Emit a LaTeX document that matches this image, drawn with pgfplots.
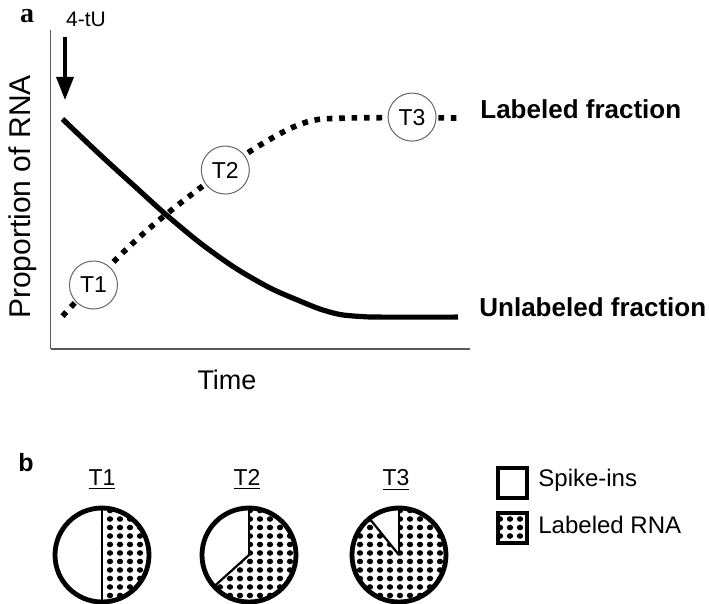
\documentclass[border=0pt]{standalone}
\usepackage{pgfplots}
\pgfplotsset{compat=1.18}
\usepackage{fontspec}
\setmainfont{Liberation Sans}
\newfontfamily\serifbf{Liberation Serif}
\usetikzlibrary{arrows.meta,patterns.meta}

\tikzdeclarepattern{
  name=bigdots,
  type=uncolored,
  bounding box={(-2.5pt,-2.125pt) and (2.5pt,2.125pt)},
  tile size={(5pt,4.25pt)},
  code={\fill (0,0) ellipse [x radius=1.6pt, y radius=1.4pt];}
}

\begin{document}
\begin{tikzpicture}
\useasboundingbox (0,0) rectangle (354.5pt,-302pt);

% ---------------- panel a ----------------
\begin{axis}[
  at={(25.25pt,-174.5pt)}, anchor=south west,
  scale only axis, width=209.75pt, height=159.5pt,
  xmin=0, xmax=10, ymin=0, ymax=1,
  axis x line*=bottom, axis y line*=left,
  ticks=none,
  axis line style={black!65, line width=0.75pt},
  clip=false]
% unlabeled fraction
\addplot[black, line width=2.6pt, smooth, tension=0.5] coordinates {
  (0.286,0.721) (1.190,0.608) (2.024,0.508) (2.738,0.423) (3.571,0.332)
  (4.405,0.254) (5.238,0.191) (5.952,0.150) (6.429,0.125) (6.905,0.108)
  (7.381,0.102) (7.857,0.100) (9.714,0.100)};
% labeled fraction
\addplot[black, line width=2.8pt, dash pattern=on 2.8pt off 3.4pt, smooth, tension=0.55] coordinates {
  (0.286,0.103) (1.5,0.273) (2.452,0.389) (3.5,0.498) (4.810,0.624)
  (6.024,0.708) (7.071,0.724) (9.690,0.724)};
\node[circle, draw=black!60, line width=0.5pt, fill=white, minimum size=24pt, inner sep=0pt,
      font=\fontsize{11.5}{12}\selectfont] at (axis cs:1.024,0.2006) {T1};
\node[circle, draw=black!60, line width=0.5pt, fill=white, minimum size=24pt, inner sep=0pt,
      font=\fontsize{11.5}{12}\selectfont] at (axis cs:4.167,0.561) {T2};
\node[circle, draw=black!60, line width=0.5pt, fill=white, minimum size=24pt, inner sep=0pt,
      font=\fontsize{11.5}{12}\selectfont] at (axis cs:8.619,0.727) {T3};
\end{axis}

% annotations panel a
\node[font=\serifbf\bfseries\fontsize{14}{16}\selectfont, anchor=base] at (13.5pt,-11.5pt) {a};
\node[font=\fontsize{10.5}{12}\selectfont, anchor=base] at (43pt,-13.5pt) {4-tU};
\draw[line width=1.8pt, -{Triangle[length=11.5pt,width=8.5pt]}] (32.5pt,-18.5pt) -- (32.5pt,-50pt);
\node[font=\fontsize{13.5}{16}\selectfont, anchor=base] at (113.5pt,-195pt) {Time};
\node[font=\fontsize{15}{18}\selectfont, rotate=90] at (11.5pt,-98.5pt) {Proportion of RNA};
\node[font=\bfseries\fontsize{13}{15}\selectfont, anchor=base west, inner sep=0pt] at (240pt,-59.5pt) {Labeled fraction};
\node[font=\bfseries\fontsize{13}{15}\selectfont, anchor=base west, inner sep=0pt] at (239.5pt,-158.5pt) {Unlabeled fraction};

% ---------------- panel b ----------------
\begin{axis}[
  at={(0pt,-302pt)}, anchor=south west,
  x=0.5pt, y=0.5pt, xmin=0, xmax=709, ymin=0, ymax=604,
  hide axis, clip=false]
\node[font=\bfseries\fontsize{12.5}{14}\selectfont, anchor=base] at (axis cs:26,132) {b};
\node[font=\fontsize{11.5}{13}\selectfont, anchor=base] at (axis cs:102,118) {\underline{T1}};
\node[font=\fontsize{11.5}{13}\selectfont, anchor=base] at (axis cs:247,118) {\underline{T2}};
\node[font=\fontsize{11.5}{13}\selectfont, anchor=base] at (axis cs:396,118) {\underline{T3}};
% T1: spike-ins 50 %
\fill[pattern=bigdots] (axis cs:102,49) circle[radius=23.5pt];
\fill[white] (axis cs:102,49) -- ++(90:23.5pt) arc[start angle=90, end angle=270, radius=23.5pt] -- cycle;
\draw[line width=1.1pt] (axis cs:102,49) -- ++(90:23.5pt);
\draw[line width=1.1pt] (axis cs:102,49) -- ++(270:23.5pt);
\draw[line width=2.4pt] (axis cs:102,49) circle[radius=23.5pt];
% T2: spike-ins 36.7 %
\fill[pattern=bigdots] (axis cs:249,49) circle[radius=23.5pt];
\fill[white] (axis cs:249,49) -- ++(90:23.5pt) arc[start angle=90, end angle=222, radius=23.5pt] -- cycle;
\draw[line width=1.1pt] (axis cs:249,49) -- ++(90:23.5pt);
\draw[line width=1.1pt] (axis cs:249,49) -- ++(222:23.5pt);
\draw[line width=2.4pt] (axis cs:249,49) circle[radius=23.5pt];
% T3: spike-ins 10.8 %
\fill[pattern=bigdots] (axis cs:399,49) circle[radius=23.5pt];
\fill[white] (axis cs:399,49) -- ++(90:23.5pt) arc[start angle=90, end angle=129, radius=23.5pt] -- cycle;
\draw[line width=1.1pt] (axis cs:399,49) -- ++(90:23.5pt);
\draw[line width=1.1pt] (axis cs:399,49) -- ++(129:23.5pt);
\draw[line width=2.4pt] (axis cs:399,49) circle[radius=23.5pt];
% legend
\draw[line width=1.8pt, fill=white] (axis cs:498,106) rectangle (axis cs:527,136);
\fill[pattern=bigdots] (axis cs:498,61) rectangle (axis cs:527,91);
\draw[line width=1.8pt] (axis cs:498,61) rectangle (axis cs:527,91);
\node[font=\fontsize{12}{14}\selectfont, anchor=base west, inner sep=0pt] at (axis cs:538,117) {Spike-ins};
\node[font=\fontsize{12}{14}\selectfont, anchor=base west, inner sep=0pt] at (axis cs:538,70) {Labeled RNA};
\end{axis}
\end{tikzpicture}
\end{document}
